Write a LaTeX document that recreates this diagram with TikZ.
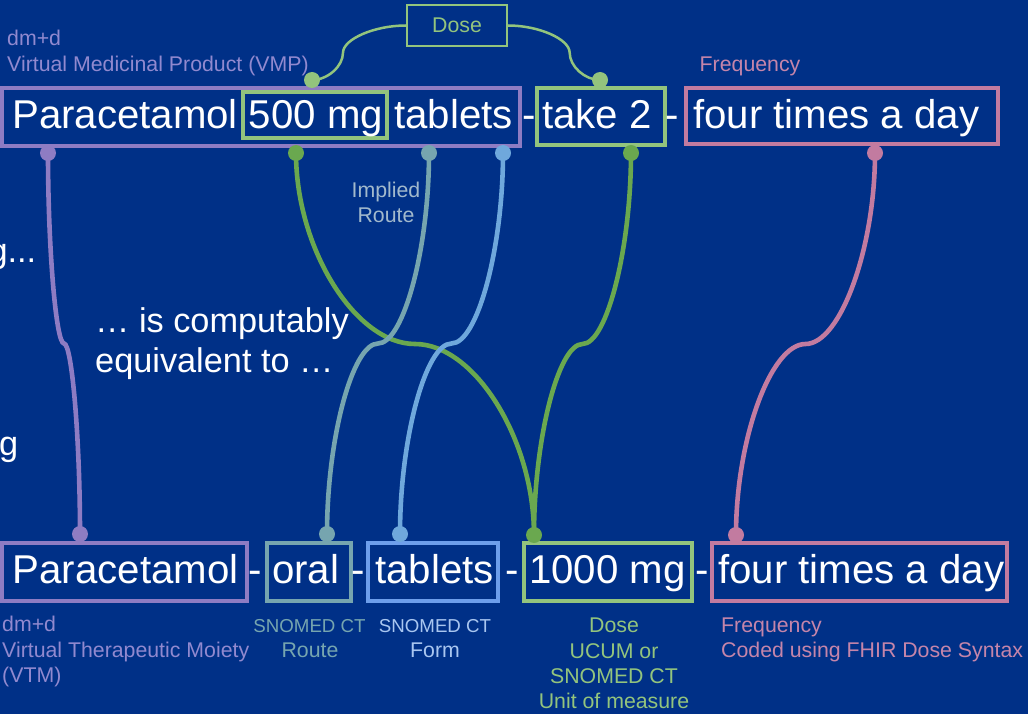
\documentclass[tikz,border=0pt]{standalone}
\usepackage{fontspec}
\setmainfont{Liberation Sans}
\usetikzlibrary{calc}
\definecolor{bg}{HTML}{003087}
\definecolor{cpurple}{HTML}{8E7CC3}
\definecolor{cvmp}{HTML}{9189CF}
\definecolor{clgreen}{HTML}{93C47D}
\definecolor{cgreen}{HTML}{6AA84F}
\definecolor{cteal}{HTML}{76A5AF}
\definecolor{cblue}{HTML}{6FA8DC}
\definecolor{cblueb}{HTML}{6D9EEB}
\definecolor{cpink}{HTML}{C27BA0}
\definecolor{cpinkt}{HTML}{C585AA}
\definecolor{cform}{HTML}{A9C6F0}
\definecolor{cimpl}{HTML}{A2B9CC}
\pgfdeclarelayer{bgl}
\pgfdeclarelayer{back}
\pgfsetlayers{bgl,back,main}
% vertical curved connector (start/end vertical tangents, horizontal at midpoint)
\newcommand\vconn[3]{\draw[#1] let \p1=(#2.center), \p2=(#3.center) in
  (#2.center) .. controls (\x1,{\y1+(\y2-\y1)/4}) and ({\x1+(\x2-\x1)/4},{(\y1+\y2)/2})
  .. ({(\x1+\x2)/2},{(\y1+\y2)/2})
  .. controls ({\x1+3*(\x2-\x1)/4},{(\y1+\y2)/2}) and (\x2,{\y2-(\y2-\y1)/4}) .. (#3.center);}
% horizontal curved connector (start/end horizontal tangents, vertical at adj fraction #4)
\newcommand\hconn[4]{\draw[#1] let \p1=(#2), \p2=(#3.center), \n1={\x1+#4*(\x2-\x1)} in
  (#2) .. controls ({(\x1+\n1*1pt)/2},\y1) and ({\n1*1pt},{\y1+(\y2-\y1)/4})
  .. ({\n1*1pt},{(\y1+\y2)/2})
  .. controls ({\n1*1pt},{\y1+3*(\y2-\y1)/4}) and ({(\n1*1pt+\x2)/2},\y2) .. (#3.center);}
\begin{document}
\begin{tikzpicture}[x=1pt,y=-1pt,
  big/.style={font=\fontsize{40.2}{48}\selectfont, text=white, inner sep=0pt, anchor=base west},
  sepr/.style={font=\fontsize{40.2}{48}\selectfont, text=white, inner sep=0pt, anchor=base},
  mid/.style={font=\fontsize{34.3}{40}\selectfont, text=white, inner sep=0pt, anchor=base west},
  lab/.style={font=\fontsize{21.3}{25}\selectfont, inner sep=0pt, anchor=base west},
  labc/.style={font=\fontsize{21.3}{25}\selectfont, inner sep=0pt, anchor=base},
  labs/.style={font=\fontsize{18.7}{22}\selectfont, inner sep=0pt, anchor=base},
  box/.style={draw=#1, line width=3.2pt, inner sep=0pt, minimum height=58pt},
  dot/.style={circle, fill=#1, inner sep=0pt, minimum size=16pt},
  wire/.style={draw=#1, line width=4.6pt},
  thinw/.style={draw=#1, line width=2.5pt}
]
\path[use as bounding box] (0,0) rectangle (1028,714);
\clip (0,0) rectangle (1028,714);

% ---------- top row boxes ----------
\node[box=cpurple, minimum width=518pt] (vmp) at (261,117) {};
\node[box=clgreen, minimum width=144pt, minimum height=46pt] (mg500) at (315,115) {};
\node[box=clgreen, minimum width=128pt, minimum height=57pt] (take) at (601,116.5) {};
\node[box=cpink, minimum width=312pt, minimum height=56pt] (freqT) at (842,116) {};
\node[box=clgreen, minimum width=100pt, minimum height=41pt, line width=2.2pt,
      text=clgreen, font=\fontsize{21.3}{25}\selectfont] (dose) at (457,25.5) {Dose};

% ---------- top row texts ----------
\node[big] (t1) at (12,129) {Paracetamol 500 mg tablets};
\node[sepr] (d1) at (529,129) {-};
\node[big] (t2) at (542,129) {take 2};
\node[sepr] (d2) at (672,129) {-};
\node[big] (t3) at (693,129) {four times a day};

% ---------- bottom row boxes ----------
\node[box=cpurple, minimum width=245pt] (vtm) at (124.5,572) {};
\node[box=cteal, minimum width=84pt] (oral) at (309,572) {};
\node[box=cblueb, minimum width=130pt] (tabB) at (433,572) {};
\node[box=clgreen, minimum width=168pt] (mg1000) at (608,572) {};
\node[box=cpink, minimum width=295pt] (freqB) at (859.5,572) {};

% ---------- bottom row texts ----------
\node[big] (b1) at (12.5,583) {Paracetamol};
\node[sepr] (e1) at (255,583) {-};
\node[big] (b2) at (272,583) {oral};
\node[sepr] (e2) at (358,583) {-};
\node[big] (b3) at (375,583) {tablets};
\node[sepr] (e3) at (512,583) {-};
\node[big] (b4) at (529,583) {1000 mg};
\node[sepr] (e4) at (702,583) {-};
\node[big] (b5) at (718,583) {four times a day};

% ---------- labels ----------
\node[lab, text=cvmp] (l1) at (7,46) {dm+d};
\node[lab, text=cvmp] (l2) at (7,72) {Virtual Medicinal Product (VMP)};
\node[lab, text=cpinkt] (l3) at (699.5,72) {Frequency};
\node[labc, text=cimpl] (l4) at (386,198) {Implied};
\node[labc, text=cimpl] (l5) at (386,223) {Route};
\node[mid] (m1) at (95,332) {… is computably};
\node[mid] (m2) at (95,372) {equivalent to …};
\node[mid] (m3) at (-11.6,262) {g...};
\node[mid] (m4) at (-1,455) {g};

\node[lab, text=cvmp] (k1) at (2,631) {dm+d};
\node[lab, text=cvmp] (k2) at (2,657) {Virtual Therapeutic Moiety};
\node[lab, text=cvmp] (k3) at (2,682) {(VTM)};
\node[labs, text=cteal] (k4) at (309.5,632) {SNOMED CT};
\node[labc, text=cteal] (k5) at (310,657) {Route};
\node[labs, text=cform] (k6) at (435,632) {SNOMED CT};
\node[labc, text=cform] (k7) at (435,657) {Form};
\node[labc, text=clgreen] (k8) at (614,632) {Dose};
\node[labc, text=clgreen] (k9) at (614,658) {UCUM or};
\node[labc, text=clgreen] (k10) at (614,683) {SNOMED CT};
\node[labc, text=clgreen] (k11) at (614,708) {Unit of measure};
\node[lab, text=cpinkt] (k12) at (721,632) {Frequency};
\node[lab, text=cpinkt] (k13) at (721,657) {Coded using FHIR Dose Syntax};

% ---------- dots ----------
\node[dot=cpurple] (p1) at (48,153) {};
\node[dot=cgreen]  (g1) at (296,153) {};
\node[dot=cteal]   (r1) at (429,153) {};
\node[dot=cblue]   (f1) at (503,153) {};
\node[dot=cgreen]  (g2) at (631,153) {};
\node[dot=cpink]   (q1) at (875,153) {};
\node[dot=cpurple] (p2) at (80,534) {};
\node[dot=cteal]   (r2) at (327,534) {};
\node[dot=cblue]   (f2) at (400,534) {};
\node[dot=cgreen]  (g3) at (534,535) {};
\node[dot=cpink]   (q2) at (736,535) {};
\node[dot=clgreen] (dd1) at (312,80) {};
\node[dot=clgreen] (dd2) at (600,80) {};

% ---------- connectors ----------
\begin{pgfonlayer}{bgl}
  \fill[bg] (0,0) rectangle (1028,714);
\end{pgfonlayer}
\begin{pgfonlayer}{back}
  \vconn{wire=cpurple}{p1}{p2}
  \vconn{wire=cgreen}{g1}{g3}
  \vconn{wire=cgreen}{g2}{g3}
  \vconn{wire=cteal}{r1}{r2}
  \vconn{wire=cblue}{f1}{f2}
  \vconn{wire=cpink}{q1}{q2}
  \hconn{thinw=clgreen}{dose.west}{dd1}{0.67}
  \hconn{thinw=clgreen}{dose.east}{dd2}{0.67}
\end{pgfonlayer}
\end{tikzpicture}
\end{document}
